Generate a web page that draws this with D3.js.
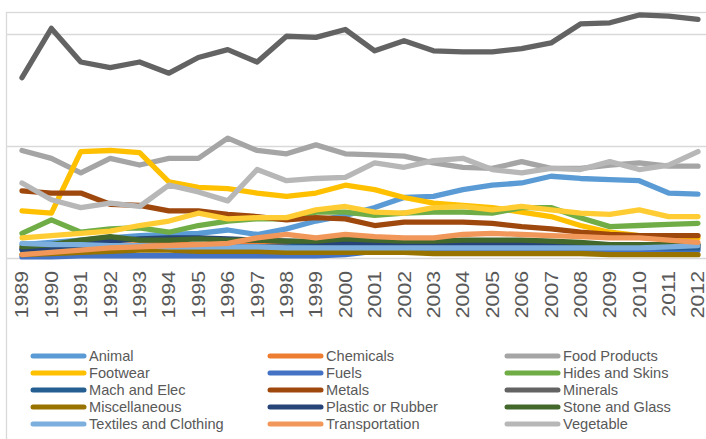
<!DOCTYPE html>
<html>
<head>
<meta charset="utf-8">
<script src="https://cdn.jsdelivr.net/npm/d3@7"></script>
<style>
  body { margin: 0; background: #fff; }
  svg { display: block; font-family: "Liberation Sans", Arial, sans-serif; }
</style>
</head>
<body>
<div id="area"></div>
<script>
var width = 706,
    height = 439;

var years = [1989, 1990, 1991, 1992, 1993, 1994, 1995, 1996, 1997, 1998, 1999, 2000,
             2001, 2002, 2003, 2004, 2005, 2006, 2007, 2008, 2009, 2010, 2011, 2012];

var gridValues = [0, 10, 20];

var animal    = [1.2, 1.4, 1.6, 1.8, 2.0, 2.1, 2.2, 2.5, 2.1, 2.6, 3.3, 3.8, 4.5, 5.4, 5.5, 6.1, 6.5, 6.7, 7.3, 7.1, 7.0, 6.9, 5.8, 5.7];
var chemicals = [0.9, 1.0, 1.1, 1.1, 1.2, 1.2, 1.2, 1.2, 1.2, 1.2, 1.2, 1.2, 1.2, 1.2, 1.2, 1.2, 1.2, 1.2, 1.2, 1.2, 1.2, 1.1, 1.1, 1.1];
var food      = [9.6, 8.9, 7.6, 8.9, 8.3, 8.9, 8.9, 10.7, 9.6, 9.3, 10.1, 9.3, 9.2, 9.1, 8.5, 8.1, 8.0, 8.6, 8.0, 8.0, 8.3, 8.5, 8.2, 8.2];
var footwear  = [4.2, 4.0, 9.5, 9.6, 9.4, 6.8, 6.3, 6.2, 5.8, 5.5, 5.8, 6.5, 6.1, 5.4, 4.9, 4.7, 4.5, 4.1, 3.7, 2.9, 2.3, 2.0, 1.9, 1.8];
var fuels     = [0.1, 0.1, 0.2, 0.2, 0.2, 0.2, 0.2, 0.2, 0.2, 0.2, 0.2, 0.3, 0.6, 0.7, 0.7, 0.7, 0.7, 0.7, 0.7, 0.7, 0.7, 0.7, 0.7, 0.7];
var hides     = [2.2, 3.4, 2.3, 2.6, 2.7, 2.3, 2.9, 3.3, 3.5, 3.5, 4.1, 4.1, 3.8, 4.0, 4.1, 4.1, 4.0, 4.5, 4.5, 3.6, 2.8, 2.9, 3.0, 3.1];
var mach      = [0.7, 0.8, 0.9, 1.0, 1.0, 1.0, 1.0, 1.0, 1.0, 1.0, 1.1, 1.1, 1.1, 1.1, 1.1, 1.1, 1.1, 1.1, 1.1, 1.0, 1.0, 1.0, 0.9, 0.9];
var metals    = [6.0, 5.8, 5.8, 4.8, 4.7, 4.2, 4.2, 3.9, 3.7, 3.4, 3.6, 3.5, 2.9, 3.2, 3.2, 3.2, 3.1, 2.8, 2.6, 2.3, 2.1, 2.0, 2.0, 2.0];
var minerals  = [16.1, 20.5, 17.5, 17.0, 17.5, 16.5, 17.9, 18.6, 17.5, 19.8, 19.7, 20.4, 18.5, 19.4, 18.5, 18.4, 18.4, 18.7, 19.2, 20.9, 21.0, 21.7, 21.6, 21.3];
var misc      = [0.3, 0.4, 0.5, 0.6, 0.7, 0.7, 0.6, 0.6, 0.6, 0.5, 0.5, 0.5, 0.5, 0.5, 0.4, 0.4, 0.4, 0.4, 0.4, 0.4, 0.3, 0.3, 0.3, 0.3];
var plastic   = [0.8, 1.0, 1.2, 1.5, 1.7, 1.8, 1.8, 1.7, 1.6, 1.5, 1.4, 1.3, 1.3, 1.2, 1.2, 1.2, 1.2, 1.2, 1.2, 1.2, 1.2, 1.2, 1.1, 1.1];
var stone     = [1.0, 1.2, 1.6, 1.9, 1.6, 1.6, 1.7, 1.6, 1.6, 1.5, 1.5, 1.7, 1.6, 1.5, 1.5, 1.6, 1.6, 1.6, 1.5, 1.4, 1.2, 1.2, 1.2, 1.2];
var textiles  = [1.3, 1.2, 1.2, 1.1, 1.1, 1.0, 1.0, 1.0, 1.0, 0.9, 0.9, 0.9, 0.9, 0.9, 0.9, 0.9, 0.9, 0.9, 0.9, 0.9, 0.9, 0.9, 1.0, 1.1];
var transport = [0.3, 0.5, 0.7, 0.9, 1.0, 1.1, 1.2, 1.3, 1.8, 2.1, 1.8, 2.1, 1.9, 1.8, 1.8, 2.1, 2.2, 2.1, 2.0, 1.9, 1.8, 1.8, 1.6, 1.4];
var vegetable = [6.7, 5.2, 4.5, 4.9, 4.6, 6.5, 5.9, 5.1, 7.9, 6.9, 7.1, 7.2, 8.5, 8.1, 8.7, 8.9, 7.9, 7.6, 8.0, 7.9, 8.6, 7.9, 8.3, 9.5];
var wood      = [1.8, 2.0, 2.2, 2.4, 2.9, 3.3, 4.0, 3.5, 3.6, 3.6, 4.3, 4.6, 4.1, 4.0, 4.5, 4.6, 4.3, 4.6, 4.3, 4.0, 3.9, 4.3, 3.7, 3.7];

var seriesNames = ['Animal', 'Chemicals', 'Food Products', 'Footwear', 'Fuels', 'Hides and Skins',
                   'Mach and Elec', 'Metals', 'Minerals', 'Miscellaneous', 'Plastic or Rubber',
                   'Stone and Glass', 'Textiles and Clothing', 'Transportation', 'Vegetable', 'Wood'];
var seriesValues = [animal, chemicals, food, footwear, fuels, hides, mach, metals, minerals, misc,
                    plastic, stone, textiles, transport, vegetable, wood];
var seriesColors = ['#5B9BD5', '#ED7D31', '#A5A5A5', '#FFC000', '#4472C4', '#70AD47',
                    '#255E91', '#9E480E', '#636363', '#997300', '#264478', '#43682B',
                    '#7CAFDD', '#F1975A', '#B7B7B7', '#FFCD33'];

// the picture is cropped: only the first 15 legend entries are visible
var legendCount = 15;

var svg = d3.select('#area').append('svg')
    .attr('width', width)
    .attr('height', height);

svg.append('rect')
    .attr('width', width).attr('height', height)
    .attr('fill', '#fff');

// chart border (cropped on right and bottom)
svg.append('rect')
    .attr('x', 6.5).attr('y', 12.5)
    .attr('width', width + 20).attr('height', height + 20)
    .attr('fill', 'none')
    .attr('stroke', '#d9d9d9')
    .attr('stroke-width', 1.3);

var x = d3.scalePoint()
    .domain(years)
    .range([22, 698]);

var y = d3.scaleLinear()
    .domain([0, 10])
    .range([258, 146]);

// gridlines
var grid = svg.append('g')
    .attr('transform', 'translate(6,0)')
    .call(d3.axisLeft(y).tickValues(gridValues).tickSize(-(width - 6)).tickFormat(''));
grid.select('.domain').remove();
grid.selectAll('line').attr('stroke', '#d9d9d9').attr('stroke-width', 1.3);

// year labels
var xAxis = svg.append('g')
    .attr('transform', 'translate(0,258)')
    .call(d3.axisBottom(x).tickSize(0));
xAxis.select('.domain').remove();
xAxis.selectAll('text')
    .attr('transform', 'rotate(-90) scale(1.18,1)')
    .attr('text-anchor', 'end')
    .attr('x', -13 / 1.18)
    .attr('y', -0.5)
    .attr('dy', '0.36em')
    .attr('fill', '#595959')
    .attr('font-size', 18)
    .attr('font-family', '"Liberation Sans", Arial, sans-serif');

var line = d3.line()
    .x(function(d, i) { return x(years[i]); })
    .y(function(d) { return y(d); });

svg.append('g').selectAll('path')
    .data(seriesValues)
    .enter().append('path')
    .attr('d', line)
    .attr('fill', 'none')
    .attr('stroke', function(d, i) { return seriesColors[i]; })
    .attr('stroke-width', 5.3)
    .attr('stroke-linejoin', 'round')
    .attr('stroke-linecap', 'round');

// legend, 3 columns
var colX = [31, 268, 505],
    rowY = 356,
    rowStep = 17;

var legend = svg.append('g').selectAll('g')
    .data(seriesNames.slice(0, legendCount))
    .enter().append('g')
    .attr('transform', function(d, i) {
      return 'translate(' + colX[i % 3] + ',' + (rowY + Math.floor(i / 3) * rowStep) + ')';
    });

legend.append('line')
    .attr('x1', 2).attr('x2', 53)
    .attr('stroke', function(d, i) { return seriesColors[i]; })
    .attr('stroke-width', 5)
    .attr('stroke-linecap', 'round');

legend.append('text')
    .attr('x', 58)
    .attr('dy', '0.36em')
    .attr('fill', '#595959')
    .attr('font-size', 14.6)
    .text(function(d) { return d; });
</script>
</body>
</html>
